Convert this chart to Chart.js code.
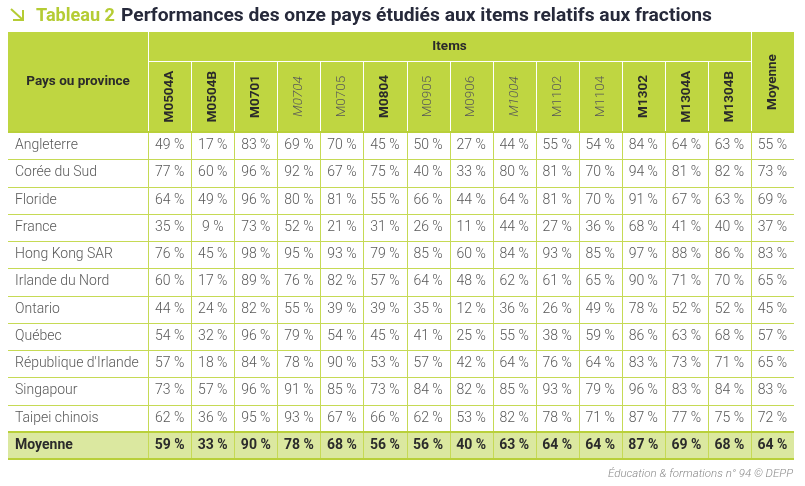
<!DOCTYPE html>
<html>
<head>
<meta charset="utf-8">
<script src="https://cdn.jsdelivr.net/npm/chart.js@4.4.0/dist/chart.umd.min.js"></script>
<style>
  body { margin: 0; background: #fff; }
  canvas { display: block; }
</style>
</head>
<body>
<canvas id="tableau" width="805" height="486"></canvas>
<script>
// données du tableau
var items = ['M0504A', 'M0504B', 'M0701', 'M0704', 'M0705', 'M0804', 'M0905', 'M0906', 'M1004', 'M1102', 'M1104', 'M1302', 'M1304A', 'M1304B']
var pays = ['Angleterre', 'Corée du Sud', 'Floride', 'France', 'Hong Kong SAR', 'Irlande du Nord', 'Ontario', 'Québec', "République d'Irlande", 'Singapour', 'Taipei chinois']
var scores = [
  [49, 17, 83, 69, 70, 45, 50, 27, 44, 55, 54, 84, 64, 63],
  [77, 60, 96, 92, 67, 75, 40, 33, 80, 81, 70, 94, 81, 82],
  [64, 49, 96, 80, 81, 55, 66, 44, 64, 81, 70, 91, 67, 63],
  [35, 9, 73, 52, 21, 31, 26, 11, 44, 27, 36, 68, 41, 40],
  [76, 45, 98, 95, 93, 79, 85, 60, 84, 93, 85, 97, 88, 86],
  [60, 17, 89, 76, 82, 57, 64, 48, 62, 61, 65, 90, 71, 70],
  [44, 24, 82, 55, 39, 39, 35, 12, 36, 26, 49, 78, 52, 52],
  [54, 32, 96, 79, 54, 45, 41, 25, 55, 38, 59, 86, 63, 68],
  [57, 18, 84, 78, 90, 53, 57, 42, 64, 76, 64, 83, 73, 71],
  [73, 57, 96, 91, 85, 73, 84, 82, 85, 93, 79, 96, 83, 84],
  [62, 36, 95, 93, 67, 66, 62, 53, 82, 78, 71, 87, 77, 75]
]
var moyennePays = [55, 73, 69, 37, 83, 65, 45, 57, 65, 83, 72]
var moyenneItems = [59, 33, 90, 78, 68, 56, 56, 40, 63, 64, 64, 87, 69, 68]
var moyenneGenerale = 64

// style des en-têtes d'items (b = gras, i = italique, n = normal)
var itemFonts = ['b', 'b', 'b', 'i', 'n', 'b', 'n', 'n', 'i', 'n', 'n', 'b', 'b', 'b']

var GREEN = '#bfd641'
var LINE = '#c6da55'
var DARK = '#2b2b2b'
var GREY = '#585858'
var paysWidth = 140 / 43      // largeur de la colonne des pays, en colonnes
var headHeight = 100 / 27.25  // hauteur de l'en-tête, en lignes
var itemsRow = 29 / 27.25

// points : une case = un point
var cells = []
var moyCol = []
var moyRow = []
for (var i = 0; i < pays.length; i++) {
  for (var j = 0; j < items.length; j++) {
    cells.push({ x: j + 0.5, y: i + 0.5, v: scores[i][j] })
  }
  moyCol.push({ x: items.length + 0.5, y: i + 0.5, v: moyennePays[i] })
}
for (var j = 0; j < items.length; j++) {
  moyRow.push({ x: j + 0.5, y: pays.length + 0.5, v: moyenneItems[j] })
}
moyRow.push({ x: items.length + 0.5, y: pays.length + 0.5, v: moyenneGenerale })

// texte étiré à une largeur donnée (police plus large dans l'original)
function fitText(ctx, txt, x0, y0, width) {
  var w = ctx.measureText(txt).width
  ctx.save()
  ctx.translate(x0, y0)
  ctx.scale(width / w, 1)
  ctx.fillText(txt, 0, 0)
  ctx.restore()
}

const tableGrid = {
  id: 'tableGrid',
  beforeDatasetsDraw(chart) {
    const ctx = chart.ctx
    const x = chart.scales.x, y = chart.scales.y
    const X = v => Math.round(x.getPixelForValue(v)) + 0.5
    const Y = v => Math.round(y.getPixelForValue(v)) + 0.5
    const nC = items.length, nR = pays.length
    const L = x.getPixelForValue(x.min), R = x.getPixelForValue(x.max)
    ctx.save()
    // fonds
    ctx.fillStyle = GREEN
    ctx.fillRect(L, y.getPixelForValue(-headHeight), R - L, y.getPixelForValue(0) - y.getPixelForValue(-headHeight))
    ctx.fillStyle = '#dbe8a0'
    ctx.fillRect(L, y.getPixelForValue(nR), R - L, y.getPixelForValue(nR + 1) - y.getPixelForValue(nR))

    // lignes du corps
    ctx.strokeStyle = LINE
    ctx.lineWidth = 1
    ctx.beginPath()
    for (var k = 1; k < nR; k++) {
      ctx.moveTo(L, Y(k)); ctx.lineTo(R, Y(k))
    }
    for (var j = 0; j <= nC; j++) {
      ctx.moveTo(X(j), Y(0)); ctx.lineTo(X(j), Y(nR + 1))
    }
    ctx.stroke()
    ctx.strokeStyle = '#b9d03a'
    ctx.lineWidth = 2
    ctx.beginPath()
    ctx.moveTo(L, Math.round(y.getPixelForValue(nR))); ctx.lineTo(R, Math.round(y.getPixelForValue(nR)))
    ctx.moveTo(L, Math.round(y.getPixelForValue(nR + 1))); ctx.lineTo(R, Math.round(y.getPixelForValue(nR + 1)))
    ctx.moveTo(L, Math.round(y.getPixelForValue(0))); ctx.lineTo(R, Math.round(y.getPixelForValue(0)))
    ctx.stroke()

    // lignes blanches de l'en-tête
    ctx.strokeStyle = '#ffffff'
    ctx.lineWidth = 1
    ctx.beginPath()
    var yTop = y.getPixelForValue(-headHeight), yMid = Y(-headHeight + itemsRow), yBot = y.getPixelForValue(0) - 1
    ctx.moveTo(X(0), yTop); ctx.lineTo(X(0), yBot)
    ctx.moveTo(X(nC), yTop); ctx.lineTo(X(nC), yBot)
    ctx.moveTo(X(0), yMid); ctx.lineTo(X(nC), yMid)
    for (var j = 1; j < nC; j++) {
      ctx.moveTo(X(j), yMid); ctx.lineTo(X(j), yBot)
    }
    ctx.stroke()
    ctx.restore()
  },
  afterDatasetsDraw(chart) {
    const ctx = chart.ctx
    const x = chart.scales.x, y = chart.scales.y
    const nC = items.length, nR = pays.length
    ctx.save()

    // titre
    ctx.strokeStyle = '#b5cc34'
    ctx.lineWidth = 2
    ctx.beginPath()
    ctx.moveTo(11, 9); ctx.lineTo(23, 20)
    ctx.moveTo(13, 20); ctx.lineTo(23, 20); ctx.lineTo(23, 10)
    ctx.stroke()
    ctx.textAlign = 'left'
    ctx.textBaseline = 'alphabetic'
    ctx.fillStyle = '#b5cc34'
    ctx.font = 'bold 18px Roboto'
    fitText(ctx, 'Tableau 2', 36, 20.5, 79)
    ctx.fillStyle = '#26293a'
    fitText(ctx, 'Performances des onze pays étudiés aux items relatifs aux fractions', 121, 20.5, 591)

    // en-têtes
    ctx.textBaseline = 'middle'
    ctx.fillStyle = DARK
    ctx.textAlign = 'center'
    ctx.font = 'bold 13.5px Roboto'
    var yHead = y.getPixelForValue(-headHeight / 2)
    ctx.fillText('Pays ou province', (x.getPixelForValue(x.min) + x.getPixelForValue(0)) / 2, yHead)
    ctx.fillText('Items', x.getPixelForValue(nC / 2), y.getPixelForValue(-headHeight + itemsRow / 2))
    var ySub = y.getPixelForValue(-(headHeight - itemsRow) / 2)
    for (var j = 0; j < nC; j++) {
      var f = itemFonts[j]
      ctx.font = f === 'b' ? 'bold 13.5px Roboto' : (f === 'i' ? 'italic 300 13.5px Roboto' : '300 13.5px Roboto')
      ctx.fillStyle = f === 'b' ? DARK : GREY
      ctx.save()
      ctx.translate(x.getPixelForValue(j + 0.5), ySub)
      ctx.rotate(-Math.PI / 2)
      ctx.fillText(items[j], 0, 0)
      ctx.restore()
    }
    ctx.font = 'bold 13.5px Roboto'
    ctx.fillStyle = DARK
    ctx.save()
    ctx.translate(x.getPixelForValue(nC + 0.5), yHead)
    ctx.rotate(-Math.PI / 2)
    ctx.fillText('Moyenne', 0, 0)
    ctx.restore()

    // noms des pays
    ctx.textAlign = 'left'
    var xName = x.getPixelForValue(x.min) + 7
    ctx.font = '300 14px Roboto'
    ctx.fillStyle = GREY
    pays.forEach(function (p, i) {
      ctx.fillText(p, xName, y.getPixelForValue(i + 0.5))
    })
    ctx.font = 'bold 14px Roboto'
    ctx.fillStyle = DARK
    ctx.fillText('Moyenne', xName, y.getPixelForValue(nR + 0.5))

    // valeurs
    ctx.textAlign = 'center'
    chart.data.datasets.forEach(function (ds, d) {
      var meta = chart.getDatasetMeta(d)
      ctx.font = ds.bold ? 'bold 14px Roboto' : '300 14px Roboto'
      ctx.fillStyle = ds.bold ? DARK : GREY
      meta.data.forEach(function (pt, k) {
        ctx.fillText(ds.data[k].v + ' %', pt.x, pt.y)
      })
    })

    // source
    ctx.textAlign = 'right'
    ctx.textBaseline = 'alphabetic'
    ctx.font = 'italic 300 11.5px Roboto'
    ctx.fillStyle = '#8a8a8a'
    ctx.fillText('Éducation & formations n° 94 © DEPP', 793, 477)
    ctx.restore()
  }
}

new Chart(document.getElementById('tableau'), {
  type: 'scatter',
  data: {
    datasets: [
      { label: 'scores', data: cells, bold: false },
      { label: 'moyenne pays', data: moyCol, bold: false },
      { label: 'moyenne items', data: moyRow, bold: true }
    ]
  },
  options: {
    responsive: false,
    animation: false,
    events: [],
    elements: { point: { radius: 0, hoverRadius: 0 } },
    layout: { padding: { left: 8, right: 11, top: 32, bottom: 27 } },
    plugins: {
      legend: { display: false },
      title: { display: false },
      tooltip: { enabled: false }
    },
    scales: {
      x: { type: 'linear', display: false, min: -paysWidth, max: items.length + 1 },
      y: { type: 'linear', display: false, reverse: true, min: -headHeight, max: pays.length + 1 }
    }
  },
  plugins: [tableGrid]
})
</script>
</body>
</html>
